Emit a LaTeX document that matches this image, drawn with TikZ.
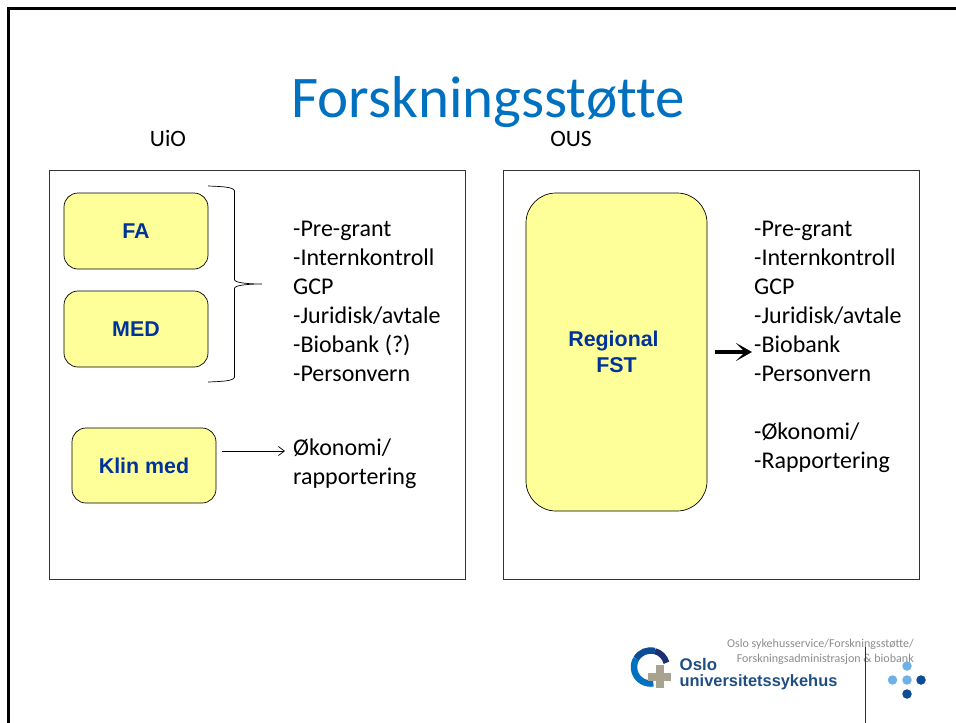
\documentclass[tikz,border=0pt]{standalone}
\usepackage{fontspec}
\setmainfont{Carlito}
\newfontfamily\boxfont{Liberation Sans}
\newfontfamily\titlefont[Ligatures=NoCommon]{Carlito}
\usepackage{tikz}
\usetikzlibrary{arrows.meta}
\definecolor{boxfill}{HTML}{FFFF99}
\definecolor{boxtext}{HTML}{003399}
\definecolor{titleblue}{HTML}{0070C0}
\definecolor{logoblue}{HTML}{1F4E83}
\definecolor{logonavy}{HTML}{1B2F73}
\definecolor{dotlight}{HTML}{6FB1E4}
\definecolor{dotdark}{HTML}{0B4C94}
\definecolor{crossgrey}{HTML}{A8A391}
\tikzstyle{panel} = [draw=black!80,line width=0.8pt,inner sep=0pt,minimum width=416pt,minimum height=409pt]
\tikzstyle{unit} = [draw=black,line width=0.7pt,fill=boxfill,rounded corners=14pt,align=center,text=boxtext,font=\boxfont\bfseries\fontsize{21.4pt}{26pt}\selectfont,inner sep=0pt]
\tikzstyle{tasks} = [below right,inner sep=0pt,align=left,font=\fontsize{24pt}{29pt}\selectfont]
\tikzstyle{foot} = [left,inner sep=0pt,text=black!45,font=\fontsize{12.05pt}{13pt}\selectfont]
\tikzstyle{dot} = [circle,inner sep=0pt,minimum size=9.5pt]
\tikzstyle{heading} = [anchor=base,inner sep=0pt,font=\fontsize{23.5pt}{26pt}\selectfont]

\begin{document}
\begin{tikzpicture}[yscale=-1]
			\useasboundingbox (0pt,0pt) rectangle (956pt,723pt);
			\draw[line width=2.5pt] (8.5pt,723pt) -- (8.5pt,8.5pt) -- (956pt,8.5pt);
			\node (title) at (488pt,102pt)[inner sep=0pt,text=titleblue,font=\titlefont\fontsize{59pt}{64pt}\selectfont]{Forskningsstøtte};
			\node (uio) at (168pt,146pt)[heading]{UiO};
			\node (ous) at (571pt,146pt)[heading]{OUS};
			\node (leftpanel) at (257pt,374.5pt)[panel]{};
			\node (rightpanel) at (711pt,374.5pt)[panel]{};
			\node (fa) at (136pt,231pt)[unit,minimum width=144pt,minimum height=76pt]{FA};
			\node (med) at (136pt,329pt)[unit,minimum width=144pt,minimum height=76pt]{MED};
			\node (klin) at (144pt,465.5pt)[unit,minimum width=144pt,minimum height=75pt]{Klin med};
			\node (regional) at (616.5pt,352pt)[unit,rounded corners=30pt,minimum width=181pt,minimum height=318pt]{Regional\hspace*{6pt}\\FST};
			\node (uiotasks) at (293pt,220.5pt)[tasks]{-Pre-grant\\-Internkontroll\\GCP\\-Juridisk/avtale\\-Biobank (?)\\-Personvern};
			\node (okonomi) at (293pt,438.5pt)[tasks]{Økonomi/\\rapportering};
			\node (oustasks) at (754pt,220.5pt)[tasks]{-Pre-grant\\-Internkontroll\\GCP\\-Juridisk/avtale\\-Biobank\\-Personvern\\[29pt]-Økonomi/\\-Rapportering};
			% brace next to FA and MED
			\coordinate (bracetop) at (208pt,186pt);
			\coordinate (bracetip) at (262pt,284pt);
			\coordinate (bracebottom) at (208pt,382pt);
			\draw[line width=0.7pt] (bracetop) .. controls (222pt,186.5pt) and (234pt,187pt) .. (234.5pt,191pt) -- (234.5pt,280pt) .. controls (235pt,282pt) and (243pt,284pt) .. (bracetip) .. controls (243pt,284pt) and (235pt,286pt) .. (234.5pt,288pt) -- (234.5pt,377pt) .. controls (234pt,381pt) and (222pt,381.5pt) .. (bracebottom);
			\coordinate (okoin) at (285pt,451pt);
			\draw[-{Straight Barb[length=6pt,width=9pt]},line width=0.7pt,shorten <=6pt] (klin.east |- okoin) -- (okoin);
			\coordinate (bioin) at (752pt,352pt);
			\draw[-{Stealth[length=16pt,width=18pt,inset=9pt]},line width=3.4pt,shorten <=8pt] (regional.east |- bioin) -- (bioin);
			% logo
			\draw[logonavy,line width=6pt,shift={(650.5pt,667pt)}] (-15:16.5pt) arc (-15:-75:16.5pt);
			\draw[dotdark,line width=6.5pt,shift={(650.5pt,667pt)}] (-75:16.5pt) arc (-75:-150:16.5pt);
			\draw[titleblue,line width=6.5pt,shift={(650.5pt,667pt)}] (-150:16.5pt) arc (-150:-280:16.5pt);
			\node (cross) at (659.5pt,676.5pt)[fill=crossgrey,minimum width=23pt,minimum height=8pt,inner sep=0pt]{};
			\node (crossup) at (659.5pt,676.5pt)[fill=crossgrey,minimum width=8pt,minimum height=23pt,inner sep=0pt]{};
			\node (oslo) at (679.5pt,664.5pt)[right,inner sep=0pt,text=logoblue,font=\boxfont\bfseries\fontsize{16.8pt}{20pt}\selectfont]{Oslo};
			\node (ousname) at (679.5pt,682pt)[right,inner sep=0pt,text=logoblue,font=\boxfont\bfseries\fontsize{16.4pt}{20pt}\selectfont]{universitetssykehus};
			\node (dottop) at (907pt,666pt)[dot,fill=dotlight]{};
			\node (dotleft) at (892.5pt,680pt)[dot,fill=dotlight]{};
			\node (dotmid) at (907pt,680pt)[dot,fill=dotlight]{};
			\node (dotright) at (921pt,680pt)[dot,fill=dotdark]{};
			\node (dotbottom) at (907pt,694pt)[dot,fill=dotdark]{};
			\node (footone) at (914pt,644.5pt)[foot]{Oslo sykehusservice/Forskningsstøtte/};
			\node (foottwo) at (914pt,659.5pt)[foot]{Forskningsadministrasjon \& biobank};
			\draw[boxtext,line width=0.8pt] (865.5pt,647pt) -- (865.5pt,723pt);
		\end{tikzpicture}
\end{document}
